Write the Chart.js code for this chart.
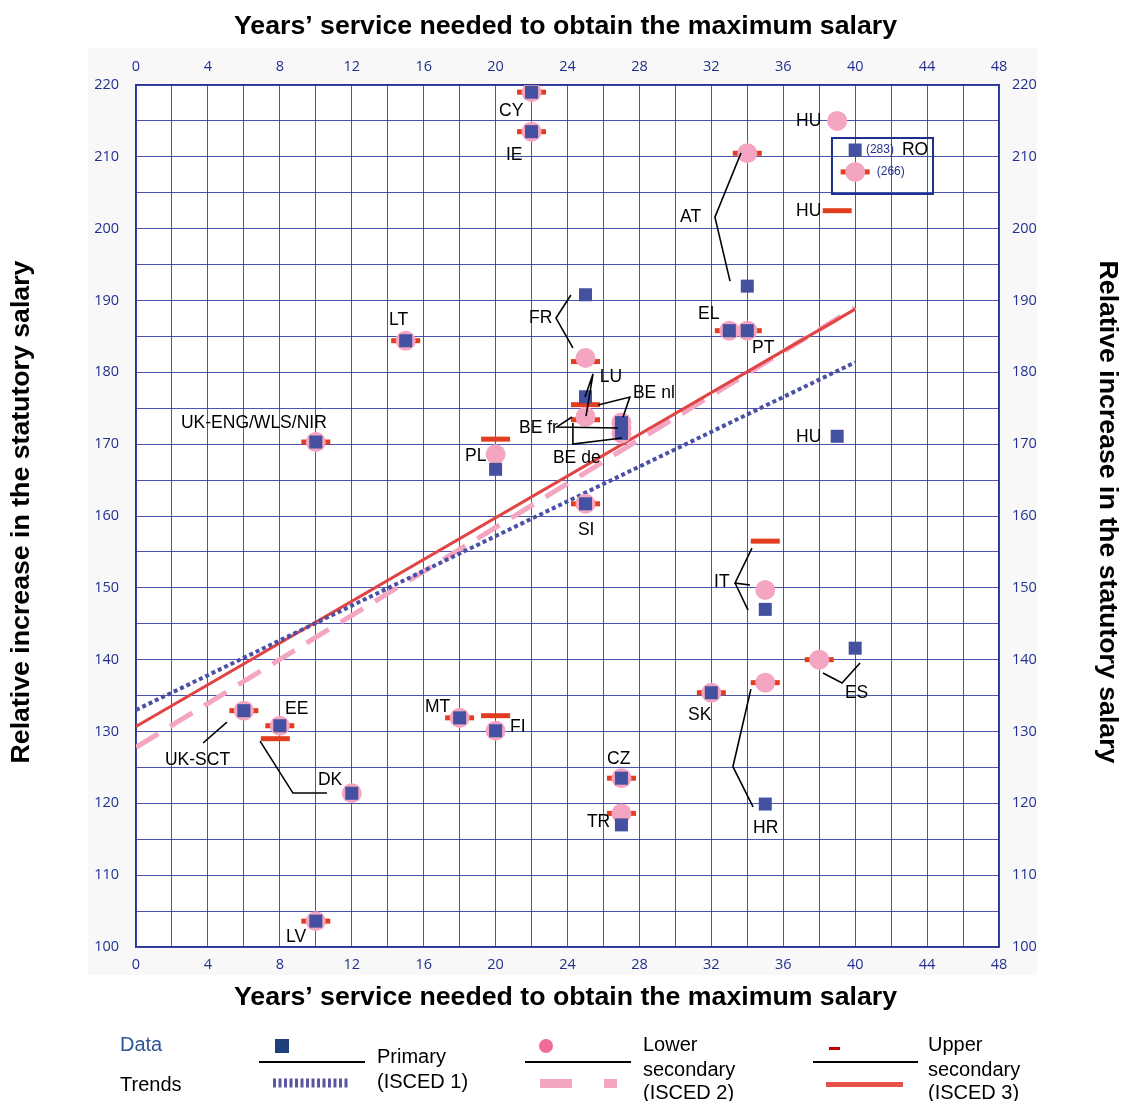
<!DOCTYPE html>
<html>
<head>
<meta charset="utf-8">
<script src="https://cdn.jsdelivr.net/npm/chart.js@4.4.0/dist/chart.umd.min.js"></script>
<style>
  body { margin: 0; background: #fff; }
</style>
</head>
<body>
<canvas id="salaryChart" width="1123" height="1101"></canvas>
<script>
// Primary (ISCED 1)
const primaryCountries = ["CY", "IE", "AT", "FR", "EL", "PT", "LT", "LU", "BE nl", "BE fr", "BE de", "UK-ENG/WLS/NIR", "HU", "PL", "SI", "IT", "ES", "SK", "UK-SCT", "MT", "EE", "FI", "CZ", "DK", "HR", "TR", "LV"];
const primaryYears = [22, 22, 34, 25, 33, 34, 15, 25, 27, 27, 27, 10, 39, 20, 25, 35, 40, 32, 6, 18, 8, 20, 27, 12, 35, 27, 10];
const primaryIncrease = [219.0, 213.5, 192.0, 190.8, 185.8, 185.8, 184.4, 176.6, 173.0, 172.2, 171.5, 170.3, 171.1, 166.5, 161.7, 147.0, 141.6, 135.4, 132.9, 131.9, 130.8, 130.1, 123.5, 121.4, 119.9, 117.0, 103.6];

// Lower secondary (ISCED 2)
const lowerCountries = ["CY", "IE", "HU", "AT", "EL", "PT", "LT", "FR", "LU", "BE nl", "BE fr", "BE de", "UK-ENG/WLS/NIR", "PL", "SI", "IT", "ES", "HR", "SK", "UK-SCT", "MT", "EE", "FI", "CZ", "DK", "TR", "LV"];
const lowerYears = [22, 22, 39, 34, 33, 34, 15, 25, 25, 27, 27, 27, 10, 20, 25, 35, 38, 35, 32, 6, 18, 8, 20, 27, 12, 27, 10];
const lowerIncrease = [219.0, 213.5, 215.0, 210.5, 185.8, 185.8, 184.4, 182.0, 173.8, 173.0, 172.2, 171.5, 170.3, 168.6, 161.7, 149.7, 140.0, 136.8, 135.4, 132.9, 131.9, 130.8, 130.1, 123.5, 121.4, 118.6, 103.6];

// Upper secondary (ISCED 3)
const upperCountries = ["CY", "IE", "AT", "HU", "EL", "PT", "LT", "FR", "BE nl", "BE fr", "UK-ENG/WLS/NIR", "PL", "SI", "IT", "ES", "HR", "SK", "UK-SCT", "MT", "FI", "EE", "DK", "CZ", "TR", "LV"];
const upperYears = [22, 22, 34, 39, 33, 34, 15, 25, 25, 25, 10, 20, 25, 35, 38, 35, 32, 6, 18, 20, 8, 7.75, 27, 27, 10];
const upperIncrease = [219.0, 213.5, 210.5, 202.5, 185.8, 185.8, 184.4, 181.5, 175.5, 173.4, 170.3, 170.7, 161.7, 156.5, 140.0, 136.8, 135.4, 132.9, 131.9, 132.2, 130.8, 129.0, 123.5, 118.6, 103.6];

// Linear trends
const trendYears = [0, 40];
const primaryTrend = [133.0, 181.4];
const lowerTrend = [127.8, 189.0];
const upperTrend = [130.7, 188.8];

// Romania is off the scale: shown in the inset box
const roValues = ["(283)", "(266)"];

// Country labels (data coordinates of the text's left/middle)
const labelTexts = ["CY", "IE", "HU", "AT", "HU", "EL", "PT", "FR", "LT", "LU", "BE nl", "BE fr", "BE de", "UK-ENG/WLS/NIR", "PL", "HU", "SI", "IT", "ES", "SK", "HR", "UK-SCT", "EE", "DK", "MT", "FI", "CZ", "TR", "LV", "RO"];
const labelX = [20.19, 20.58, 36.71, 30.26, 36.71, 31.26, 34.26, 21.86, 14.07, 25.8, 27.64, 21.3, 23.19, 2.5, 18.3, 36.71, 24.58, 32.15, 39.43, 30.7, 34.32, 1.61, 8.29, 10.12, 16.07, 20.8, 26.2, 25.08, 8.34, 42.6];
const labelY = [216.4, 210.25, 215.0, 201.6, 202.46, 188.1, 183.4, 187.6, 187.3, 179.35, 177.1, 172.25, 168.1, 172.95, 168.35, 171.0, 158.05, 150.8, 135.35, 132.3, 116.55, 126.0, 133.1, 123.25, 133.4, 130.6, 126.2, 117.4, 101.4, 210.95];

// Leader lines
const leaderLines = [
  [[33.65, 210.53], [32.2, 201.6], [33.04, 192.7]],            // AT
  [[24.19, 190.76], [23.36, 187.56], [24.3, 183.4]],           // FR
  [[24.97, 176.56], [25.42, 179.77], [25.03, 173.9]],          // LU
  [[25.7, 175.45], [27.47, 176.56], [27.09, 173.78]],          // BE nl
  [[24.25, 173.78], [23.41, 172.4], [26.81, 172.25]],          // BE fr
  [[24.3, 172.95], [24.3, 170.0], [27.03, 170.86]],            // BE de
  [[34.26, 155.54], [33.32, 150.67], [34.15, 150.39]],         // IT
  [[33.32, 150.67], [34.04, 146.9]],
  [[38.21, 138.14], [39.27, 136.75], [40.27, 139.53]],         // ES
  [[34.2, 135.9], [33.2, 125.1], [34.32, 119.5]],              // HR
  [[3.73, 128.4], [5.06, 131.3]],                              // UK-SCT
  [[6.9, 128.67], [8.73, 121.43], [10.62, 121.43]]             // DK
];

const blue = "#4451a1";
const pink = "#f4a5c1";
const red = "#e23d1f";
const gridBlue = "rgba(45,55,160,0.85)";
const tickBlue = "#22318f";

function toPoints(xs, ys) {
  return xs.map((x, i) => ({ x: x, y: ys[i] }));
}

function drawSquare(ctx, x, y) {
  ctx.fillStyle = blue;
  ctx.fillRect(x - 6.5, y - 6.5, 13, 13);
}
function drawCircle(ctx, x, y) {
  ctx.fillStyle = pink;
  ctx.beginPath();
  ctx.arc(x, y, 10, 0, Math.PI * 2);
  ctx.fill();
}
function drawBar(ctx, x, y) {
  ctx.fillStyle = red;
  ctx.fillRect(x - 14.5, y - 2.5, 29, 5);
}

const annotations = {
  id: "annotations",
  beforeDraw(chart) {
    const ctx = chart.ctx;
    const a = chart.chartArea;
    ctx.save();
    ctx.fillStyle = "#fff";
    ctx.fillRect(0, 0, chart.width, chart.height);
    ctx.fillStyle = "#f8f8f8";
    ctx.fillRect(88, 48, 949, 927);
    ctx.fillStyle = "#fff";
    ctx.fillRect(a.left, a.top, a.right - a.left, a.bottom - a.top);
    ctx.restore();
  },
  afterDatasetsDraw(chart) {
    const ctx = chart.ctx;
    const xs = chart.scales.x;
    const ys = chart.scales.y;
    const px = (v) => xs.getPixelForValue(v);
    const py = (v) => ys.getPixelForValue(v);
    ctx.save();

    // leader lines
    ctx.strokeStyle = "#000";
    ctx.lineWidth = 1.6;
    leaderLines.forEach((line) => {
      ctx.beginPath();
      line.forEach((p, i) => {
        if (i === 0) ctx.moveTo(px(p[0]), py(p[1]));
        else ctx.lineTo(px(p[0]), py(p[1]));
      });
      ctx.stroke();
    });

    // country labels
    ctx.fillStyle = "#000";
    ctx.font = "17.5px 'Liberation Sans', Arial, sans-serif";
    ctx.textAlign = "left";
    ctx.textBaseline = "middle";
    labelTexts.forEach((t, i) => {
      ctx.fillText(t, px(labelX[i]), py(labelY[i]));
    });

    // RO inset
    ctx.strokeStyle = "#1d2f8c";
    ctx.lineWidth = 2;
    ctx.strokeRect(px(38.71), py(212.62), px(44.33) - px(38.71), py(204.83) - py(212.62));
    drawSquare(ctx, px(40), py(210.95));
    drawBar(ctx, px(40), py(207.9));
    drawCircle(ctx, px(40), py(207.9));
    ctx.fillStyle = "#22318f";
    ctx.font = "12px 'Liberation Sans Narrow', 'Liberation Sans', sans-serif";
    ctx.fillText(roValues[0], px(40.6), py(210.95));
    ctx.fillText(roValues[1], px(41.2), py(207.9));
    ctx.restore();
  },
  afterDraw(chart) {
    const ctx = chart.ctx;
    const a = chart.chartArea;
    const cx = (a.left + a.right) / 2;
    const cy = (a.top + a.bottom) / 2;
    ctx.save();
    // axis titles
    ctx.fillStyle = "#000";
    ctx.font = "bold 26.7px 'Liberation Sans', Arial, sans-serif";
    ctx.textAlign = "center";
    ctx.textBaseline = "middle";
    const xTitle = "Years’ service needed to obtain the maximum salary";
    const yTitle = "Relative increase in the statutory salary";
    ctx.fillText(xTitle, cx - 2, 27);
    ctx.fillText(xTitle, cx - 2, 998);
    ctx.save();
    ctx.translate(22, cy - 4);
    ctx.rotate(-Math.PI / 2);
    ctx.fillText(yTitle, 0, 0);
    ctx.restore();
    ctx.save();
    ctx.translate(1107, cy - 4);
    ctx.rotate(Math.PI / 2);
    ctx.fillText(yTitle, 0, 0);
    ctx.restore();

    // legend
    ctx.textAlign = "left";
    ctx.font = "20px 'Liberation Sans', Arial, sans-serif";
    ctx.fillStyle = "#2f5597";
    ctx.fillText("Data", 120, 1045);
    ctx.fillStyle = "#000";
    ctx.fillText("Trends", 120, 1085);

    ctx.strokeStyle = "#000";
    ctx.lineWidth = 2;
    [[259, 365], [525, 631], [813, 918]].forEach((s) => {
      ctx.beginPath();
      ctx.moveTo(s[0], 1062);
      ctx.lineTo(s[1], 1062);
      ctx.stroke();
    });
    // symbols
    ctx.fillStyle = "#1f3f7a";
    ctx.fillRect(275, 1039, 14, 14);
    ctx.fillStyle = "#f06b95";
    ctx.beginPath();
    ctx.arc(546, 1046, 7, 0, Math.PI * 2);
    ctx.fill();
    ctx.fillStyle = "#c00000";
    ctx.fillRect(829, 1047, 11, 3);
    // trend samples
    ctx.strokeStyle = "#5a56a0";
    ctx.lineWidth = 9;
    ctx.setLineDash([3, 2.5]);
    ctx.beginPath();
    ctx.moveTo(273, 1083);
    ctx.lineTo(349, 1083);
    ctx.stroke();
    ctx.setLineDash([]);
    ctx.fillStyle = pink;
    ctx.fillRect(540, 1079, 32, 9);
    ctx.fillRect(604, 1079, 13, 9);
    ctx.fillStyle = "#e8524a";
    ctx.fillRect(826, 1082, 77, 5);

    ctx.fillStyle = "#000";
    ctx.fillText("Primary", 377, 1057);
    ctx.fillText("(ISCED 1)", 377, 1082);
    ctx.fillText("Lower", 643, 1045);
    ctx.fillText("secondary", 643, 1070);
    ctx.fillText("(ISCED 2)", 643, 1093);
    ctx.fillText("Upper", 928, 1045);
    ctx.fillText("secondary", 928, 1070);
    ctx.fillText("(ISCED 3)", 928, 1093);
    ctx.restore();
  },
};

function xAxis(position, height) {
  return {
    type: "linear",
    position: position,
    min: 0,
    max: 48,
    grid: { display: position === "bottom", color: gridBlue, lineWidth: 1, drawTicks: false },
    border: { color: "#2a3593", width: 1.5 },
    ticks: {
      stepSize: 2,
      autoSkip: false,
      maxRotation: 0,
      padding: 9,
      color: tickBlue,
      font: { family: "'Open Sans', sans-serif", size: 14.5 },
      callback: (v) => (v % 4 === 0 ? v : ""),
    },
    afterFit: (scale) => {
      scale.height = height;
    },
  };
}

function yAxis(position, width, pad) {
  return {
    type: "linear",
    position: position,
    min: 100,
    max: 220,
    grid: { display: position === "left", color: gridBlue, lineWidth: 1, drawTicks: false },
    border: { color: "#2a3593", width: 1.5 },
    ticks: {
      stepSize: 5,
      autoSkip: false,
      padding: pad,
      color: tickBlue,
      font: { family: "'Open Sans', sans-serif", size: 14.5 },
      callback: (v) => (v % 10 === 0 ? v : ""),
    },
    afterFit: (scale) => {
      scale.width = width;
    },
  };
}

const ctx = document.getElementById("salaryChart");
new Chart(ctx, {
  type: "scatter",
  data: {
    datasets: [
      {
        label: "Primary (ISCED 1)",
        data: toPoints(primaryYears, primaryIncrease),
        pointStyle: "rect",
        pointRadius: 9.2,
        pointHoverRadius: 9.2,
        backgroundColor: blue,
        borderWidth: 0,
        order: 1,
      },
      {
        label: "Lower secondary (ISCED 2)",
        data: toPoints(lowerYears, lowerIncrease),
        pointStyle: "circle",
        pointRadius: 10,
        pointHoverRadius: 10,
        backgroundColor: pink,
        borderWidth: 0,
        order: 2,
      },
      {
        label: "Upper secondary (ISCED 3)",
        data: toPoints(upperYears, upperIncrease),
        pointStyle: "line",
        pointRadius: 14.5,
        pointHoverRadius: 14.5,
        borderColor: red,
        borderWidth: 5,
        pointBorderWidth: 5,
        order: 3,
      },
      {
        type: "line",
        label: "Primary trend",
        data: toPoints(trendYears, primaryTrend),
        borderColor: "#4a4fa8",
        borderWidth: 4,
        borderDash: [4, 3],
        pointRadius: 0,
        order: 4,
      },
      {
        type: "line",
        label: "Lower secondary trend",
        data: toPoints(trendYears, lowerTrend),
        borderColor: pink,
        borderWidth: 5,
        borderDash: [26, 14],
        pointRadius: 0,
        order: 5,
      },
      {
        type: "line",
        label: "Upper secondary trend",
        data: toPoints(trendYears, upperTrend),
        borderColor: "#e04444",
        borderWidth: 3,
        pointRadius: 0,
        order: 4,
      },
    ],
  },
  options: {
    responsive: false,
    animation: false,
    layout: { padding: 0 },
    scales: {
      x: xAxis("bottom", 154),
      x2: xAxis("top", 85),
      y: yAxis("left", 136, 17),
      y2: yAxis("right", 124, 13),
    },
    plugins: {
      legend: { display: false },
      title: { display: false },
      tooltip: {
        callbacks: {
          label: (context) => {
            const names = [primaryCountries, lowerCountries, upperCountries][context.datasetIndex];
            const name = names ? names[context.dataIndex] : context.dataset.label;
            return ` ${name}: ${context.parsed.x} years, ${context.parsed.y}`;
          },
        },
      },
    },
  },
  plugins: [annotations],
});
</script>
</body>
</html>
